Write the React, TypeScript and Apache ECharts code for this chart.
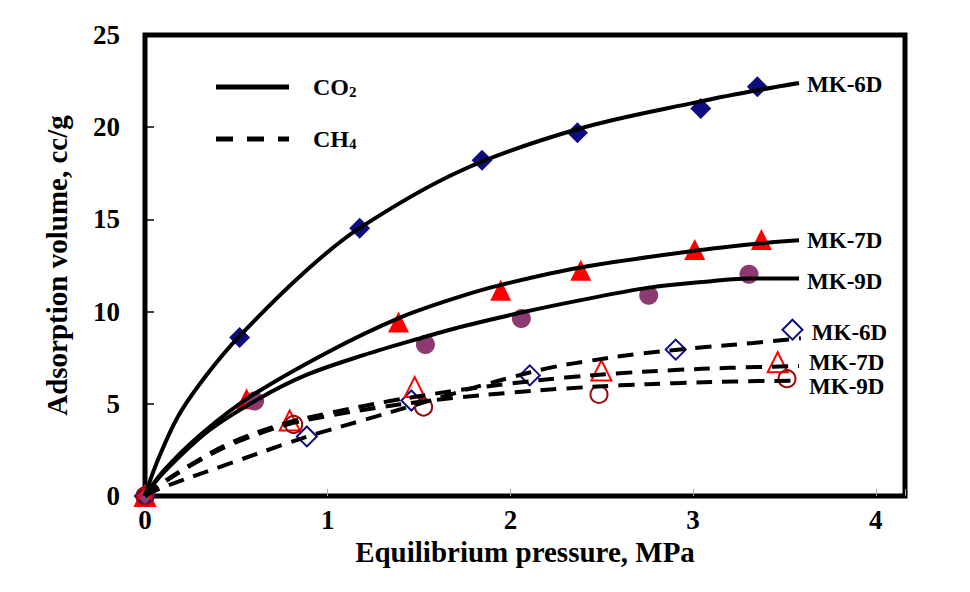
import React, { useEffect, useRef } from "react";
import * as echarts from "echarts";

// ---- tick labels ----
const xTickLabels = [0, 1, 2, 3, 4];
const yTickLabels = [0, 5, 10, 15, 20, 25];

// ---- measured points (pressure MPa, volume cc/g) ----
const co2Mk6dPts = [[0, 0], [0.518, 8.59], [1.175, 14.52], [1.845, 18.21], [2.367, 19.7], [3.042, 21.02], [3.352, 22.19]];
const co2Mk7dPts = [[0, 0], [0.556, 5.27], [1.388, 9.44], [1.947, 11.16], [2.385, 12.24], [3.009, 13.37], [3.374, 13.91]];
const co2Mk9dPts = [[0, 0], [0.6, 5.15], [1.535, 8.22], [2.06, 9.62], [2.757, 10.88], [3.306, 12.02]];
const ch4Mk6dPts = [[0, 0], [0.886, 3.23], [1.458, 5.18], [2.106, 6.54], [2.905, 7.94], [3.544, 9.02]];
const ch4Mk7dPts = [[0, 0], [0.792, 4.1], [1.476, 5.91], [2.498, 6.81], [3.463, 7.25]];
const ch4Mk9dPts = [[0, 0], [0.814, 3.88], [1.525, 4.82], [2.485, 5.51], [3.514, 6.36]];

// ---- fitted curves ----
const co2Mk6dCurve = [[0, 0], [0.06, 1.7], [0.18, 4.3], [0.34, 6.6], [0.52, 8.7], [0.88, 12.2], [1.17, 14.5], [1.72, 17.6], [2.37, 19.9], [3.04, 21.4], [3.35, 22.0], [3.58, 22.4]];
const co2Mk7dCurve = [[0, 0], [0.1, 1.35], [0.3, 3.3], [0.57, 5.35], [1.0, 7.8], [1.39, 9.65], [1.72, 10.8], [1.95, 11.45], [2.39, 12.4], [3.01, 13.3], [3.37, 13.7], [3.58, 13.87]];
const co2Mk9dCurve = [[0, 0], [0.1, 1.25], [0.35, 3.55], [0.61, 5.2], [0.88, 6.55], [1.2, 7.65], [1.54, 8.65], [1.72, 9.15], [2.06, 9.95], [2.4, 10.65], [2.76, 11.3], [3.1, 11.65], [3.31, 11.8], [3.58, 11.8]];
const ch4Mk6dCurve = [[0, 0], [0.1, 0.48], [0.46, 1.75], [0.77, 2.83], [0.94, 3.38], [1.19, 4.1], [1.47, 4.91], [1.72, 5.65], [1.87, 6.07], [2.01, 6.45], [2.2, 6.92], [2.4, 7.28], [2.71, 7.72], [3.04, 8.05], [3.33, 8.3], [3.59, 8.55]];
const ch4Mk7dCurve = [[0, 0], [0.1, 0.75], [0.25, 1.7], [0.46, 2.85], [0.77, 3.95], [1.01, 4.5], [1.34, 5.15], [1.69, 5.7], [2.0, 6.1], [2.3, 6.42], [2.6, 6.66], [2.9, 6.83], [3.2, 6.95], [3.58, 7.05]];
const ch4Mk9dCurve = [[0, 0], [0.1, 0.72], [0.25, 1.65], [0.46, 2.75], [0.77, 3.85], [1.01, 4.35], [1.28, 4.8], [1.5, 5.1], [1.7, 5.33], [2.0, 5.6], [2.3, 5.83], [2.6, 6.0], [2.9, 6.12], [3.22, 6.21], [3.58, 6.25]];

const sampleNames = ["MK-6D", "MK-7D", "MK-9D"];
const xAxisTitle = "Equilibrium pressure, MPa";
const yAxisTitle = "Adsorption volume, cc/g";

const FONT = "'Liberation Serif', 'Times New Roman', serif";
const NAVY = "#0d0d80";
const RED = "#ff0000";
const PURPLE = "#8e3a72";
const DARKRED = "#9a0a0a";

export default function App() {
  const ref = useRef<HTMLDivElement>(null);

  useEffect(() => {
    if (!ref.current) return;
    const chart = echarts.init(ref.current, null, { renderer: "svg" });

    const curve = (name: string, data: number[][], dashed: boolean, label: string, offset: number[]) => ({
      name,
      type: "line",
      data,
      smooth: 0.35,
      symbol: "none",
      z: 4,
      lineStyle: { color: "#000", width: 4, type: dashed ? [16, 10] : "solid", cap: "butt" },
      endLabel: {
        show: true,
        formatter: () => label,
        fontFamily: FONT,
        fontWeight: "bold",
        fontSize: 23,
        color: "#000",
        distance: 5,
        offset,
      },
      emphasis: { disabled: true },
    });

    const scatter = (name: string, data: number[][], symbol: string, size: number, fill: string, stroke: string, bw: number) => ({
      name,
      type: "scatter",
      data,
      symbol,
      symbolSize: size,
      z: 3,
      itemStyle: { color: fill, borderColor: stroke, borderWidth: bw, opacity: 1 },
      emphasis: { disabled: true },
    });

    const legendText = (text: string, y: number) => ({
      type: "text",
      x: 313,
      y,
      style: {
        text,
        fill: "#000",
        fontFamily: FONT,
        fontWeight: "bold",
        fontSize: 23,
        verticalAlign: "middle",
        rich: {
          a: { fontSize: 24, fontFamily: FONT, fontWeight: "bold", fill: "#000" },
          b: { fontSize: 15, fontFamily: FONT, fontWeight: "bold", fill: "#000", verticalAlign: "bottom" },
        },
      },
    });

    const option: any = {
      animation: false,
      backgroundColor: "#fff",
      grid: {
        left: 145,
        right: 65,
        top: 35,
        bottom: 96,
        show: true,
        borderColor: "#000",
        borderWidth: 5,
        backgroundColor: "transparent",
      },
      xAxis: {
        type: "value",
        min: 0,
        max: 4.16,
        interval: 1,
        name: xAxisTitle,
        nameLocation: "middle",
        nameGap: 37,
        nameTextStyle: { fontFamily: FONT, fontWeight: "bold", fontSize: 29, color: "#000" },
        axisLine: { show: false },
        axisTick: { show: true, inside: true, length: 7, lineStyle: { color: "#aaa", width: 1 } },
        splitLine: { show: false },
        axisLabel: {
          margin: 10,
          fontFamily: FONT,
          fontWeight: "bold",
          fontSize: 27,
          color: "#000",
          formatter: (v: number) => (xTickLabels.includes(v) ? String(v) : ""),
        },
      },
      yAxis: {
        type: "value",
        min: 0,
        max: 25,
        interval: 5,
        name: yAxisTitle,
        nameLocation: "middle",
        nameGap: 74,
        nameTextStyle: { fontFamily: FONT, fontWeight: "bold", fontSize: 29, color: "#000" },
        axisLine: { show: false },
        axisTick: { show: true, inside: true, length: 9, lineStyle: { color: "#000", width: 1.5 } },
        splitLine: { show: false },
        axisLabel: {
          margin: 25,
          fontFamily: FONT,
          fontWeight: "bold",
          fontSize: 27,
          color: "#000",
          formatter: (v: number) => (yTickLabels.includes(v) ? String(v) : ""),
        },
      },
      graphic: [
        { type: "line", shape: { x1: 216, y1: 87, x2: 289, y2: 87 }, style: { stroke: "#000", lineWidth: 5 } },
        legendText("{a|CO}{b|2}", 87),
        { type: "line", shape: { x1: 216, y1: 139, x2: 289, y2: 139 }, style: { stroke: "#000", lineWidth: 5, lineDash: [17, 14] } },
        legendText("{a|CH}{b|4}", 139),
      ],
      series: [
        scatter("CO2 MK-6D data", co2Mk6dPts, "diamond", 21, NAVY, NAVY, 0),
        scatter("CO2 MK-7D data", co2Mk7dPts, "triangle", 21, RED, RED, 0),
        scatter("CO2 MK-9D data", co2Mk9dPts, "circle", 19, PURPLE, PURPLE, 0),
        scatter("CH4 MK-6D data", ch4Mk6dPts, "diamond", 20, "rgba(255,255,255,0)", NAVY, 2),
        scatter("CH4 MK-7D data", ch4Mk7dPts, "triangle", 20, "rgba(255,255,255,0)", RED, 2),
        scatter("CH4 MK-9D data", ch4Mk9dPts, "circle", 17, "rgba(255,255,255,0)", DARKRED, 2),
        curve("CO2 MK-6D fit", co2Mk6dCurve, false, sampleNames[0], [3, 2]),
        curve("CO2 MK-7D fit", co2Mk7dCurve, false, sampleNames[1], [3, 0]),
        curve("CO2 MK-9D fit", co2Mk9dCurve, false, sampleNames[2], [3, 3]),
        curve("CH4 MK-6D fit", ch4Mk6dCurve, true, sampleNames[0], [6, -6]),
        curve("CH4 MK-7D fit", ch4Mk7dCurve, true, sampleNames[1], [5, -3]),
        curve("CH4 MK-9D fit", ch4Mk9dCurve, true, sampleNames[2], [5, 6]),
      ],
    };

    chart.setOption(option);
    return () => chart.dispose();
  }, []);

  return (
    <div
      ref={ref}
      style={{ position: "fixed", left: 0, top: 0, width: 970, height: 592, background: "#fff" }}
    />
  );
}
